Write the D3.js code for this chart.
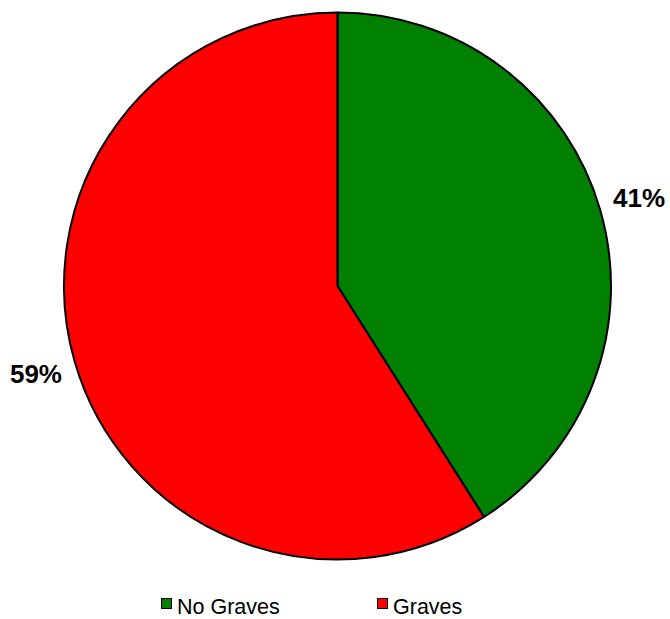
<!DOCTYPE html>
<html><head><meta charset="utf-8">
<script src="https://cdn.jsdelivr.net/npm/d3@7"></script>
<style>html,body{margin:0;padding:0;background:#fff;}svg{display:block;}</style>
</head><body>
<svg id="chart" width="670" height="619"></svg>
<script>
const categories = ["No Graves", "Graves"];
const values = [41, 59];
const colors = ["#008000", "#ff0000"];

const svg = d3.select("#chart");
const cx = 337.5, cy = 286, r = 273.5;
const g = svg.append("g").attr("transform", `translate(${cx},${cy})`);
const pie = d3.pie().sort(null).value(d => d)(values);
const arc = d3.arc().innerRadius(0).outerRadius(r);
const color = d3.scaleOrdinal().domain(categories).range(colors);

g.selectAll("path").data(pie).enter().append("path")
  .attr("d", arc)
  .attr("fill", (d, i) => color(categories[i]))
  .attr("stroke", "#000").attr("stroke-width", 2).attr("stroke-linejoin", "round");

const total = d3.sum(values);
const labelArc = d3.arc().innerRadius(314).outerRadius(314);
g.selectAll("text.lbl").data(pie).enter().append("text")
  .attr("class", "lbl")
  .attr("transform", d => `translate(${labelArc.centroid(d)})`)
  .attr("text-anchor", "middle").attr("dominant-baseline", "central")
  .attr("font-family", "Liberation Sans, Arial, sans-serif")
  .attr("font-weight", "bold").attr("font-size", 26)
  .text(d => Math.round(d.value / total * 100) + "%");

const legendX = [161, 377];
const lg = svg.append("g");
categories.forEach((c, i) => {
  lg.append("rect").attr("x", legendX[i] + 0.5).attr("y", 598.5).attr("width", 10).attr("height", 10)
    .attr("fill", color(c)).attr("stroke", "#000").attr("stroke-width", 1);
  lg.append("text").attr("x", legendX[i] + 16).attr("y", 613.5)
    .attr("font-family", "Liberation Sans, Arial, sans-serif").attr("font-size", 21.5)
    .attr("fill", "#000").text(c);
});
</script>
</body></html>
